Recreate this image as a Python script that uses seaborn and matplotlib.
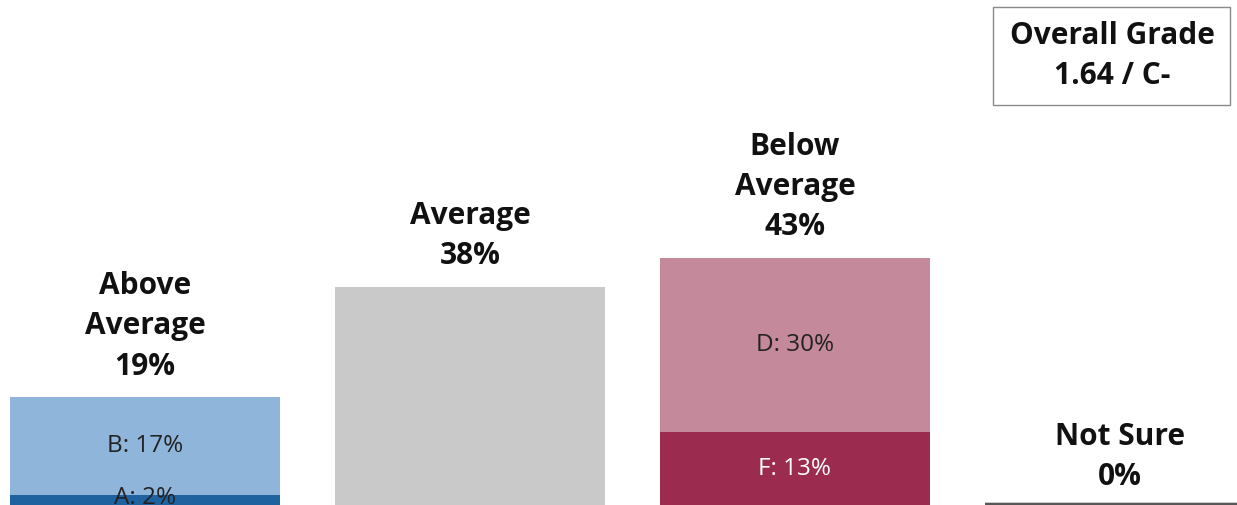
import seaborn as sns
import matplotlib.pyplot as plt
from matplotlib.patches import Rectangle
import pandas as pd

categories = ["Above\nAverage", "Average", "Below\nAverage", "Not Sure"]
total_pct = [19, 38, 43, 0]
bottom_pct = [2, 38, 13, 0]
top_labels = ["B: 17%", "", "D: 30%", ""]
bottom_labels = ["A: 2%", "", "F: 13%", ""]
top_colors = ["#8fb6da", "#c9c9c9", "#c48a9b", "#575757"]
bottom_colors = ["#1f62a0", "#c9c9c9", "#9b2c4f", "#575757"]
overall_grade = "Overall Grade\n1.64 / C-"

df = pd.DataFrame({
    "category": categories,
    "total": total_pct,
    "bottom": bottom_pct,
})

sns.set_style("white")
plt.rcParams["font.family"] = ["Open Sans", "DejaVu Sans"]

fig = plt.figure(figsize=(12.37, 5.05), dpi=100)
ax = fig.add_axes([0, 0, 1, 1])

# totals first, then the lower segment drawn over them
sns.barplot(data=df, x="category", y="total", hue="category",
            palette=top_colors, width=0.83, legend=False, ax=ax,
            linewidth=0, saturation=1)
sns.barplot(data=df, x="category", y="bottom", hue="category",
            palette=bottom_colors, width=0.83, legend=False, ax=ax,
            linewidth=0, saturation=1)

# zero bar shows as a thin line on the baseline
for p in ax.patches:
    if p.get_height() == 0:
        p.set_edgecolor("#575757")
        p.set_linewidth(6)

ax.set_xlim(-0.446, 3.36)
ax.set_ylim(0.35, 87.4)
ax.axis("off")

for i, cat in enumerate(categories):
    ax.text(i, total_pct[i] + 2.6, f"{cat}\n{total_pct[i]}%",
            ha="center", va="bottom", fontsize=21.5, fontweight="bold",
            linespacing=1.45, color="#111111")
    if top_labels[i]:
        ax.text(i, (bottom_pct[i] + total_pct[i]) / 2, top_labels[i],
                ha="center", va="center", fontsize=17.5, color="#222222")
    if bottom_labels[i]:
        txt_color = "white" if i == 2 else "#222222"
        ax.text(i, max(bottom_pct[i] / 2, 1.6), bottom_labels[i],
                ha="center", va="center", fontsize=17.5, color=txt_color)

fig.patches.append(Rectangle((993 / 1237, 1 - 105 / 505), 237 / 1237, 98 / 505,
                             transform=fig.transFigure, fill=False,
                             edgecolor="#8a8a8a", linewidth=1))
fig.text(1112 / 1237, 1 - 56 / 505, overall_grade, ha="center", va="center",
         fontsize=21.5, fontweight="bold", linespacing=1.4, color="#111111")

fig.savefig("out.png", dpi=100)
